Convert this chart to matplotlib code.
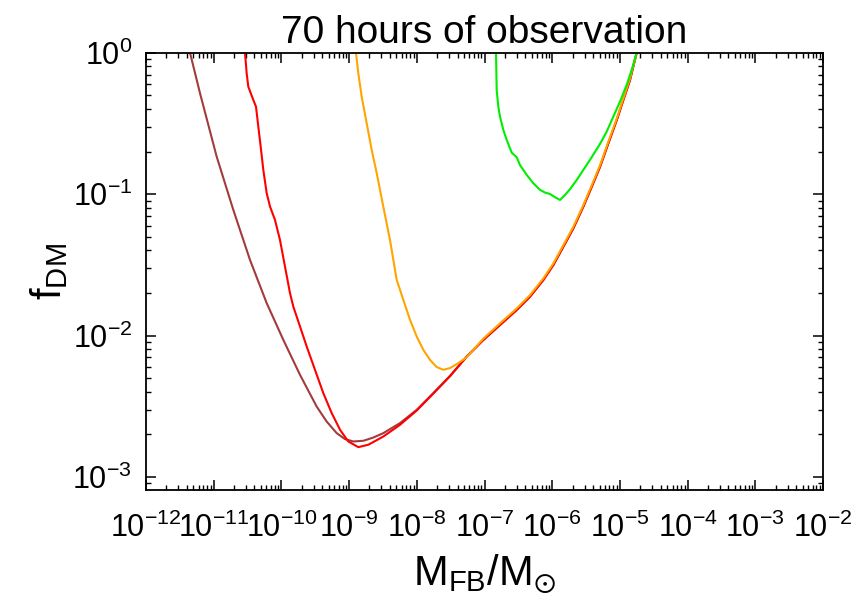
import numpy as np
import matplotlib
matplotlib.use("Agg")
from matplotlib import pyplot as plt
from matplotlib import ticker

plt.rcParams["font.family"] = ["Liberation Sans", "DejaVu Sans"]
plt.rcParams["mathtext.fontset"] = "custom"
plt.rcParams["mathtext.rm"] = "Liberation Sans"
plt.rcParams["mathtext.it"] = "Liberation Sans"
plt.rcParams["mathtext.bf"] = "Liberation Sans:bold"
plt.rcParams["mathtext.default"] = "regular"

# curves, as log10(M/Msun) and log10(f_DM)
brown_logm = [-11.350, -11.202, -11.079, -10.956, -10.710, -10.464, -10.217, -9.972,
              -9.725, -9.479, -9.331, -9.183, -9.061, -8.938, -8.790, -8.643, -8.495,
              -8.248, -8.001, -7.756, -7.510, -7.263, -7.018, -6.771, -6.524, -6.328,
              -6.131, -5.983, -5.836, -5.688, -5.541, -5.416, -5.294, -5.171, -5.047,
              -4.950, -4.851, -4.752]
brown_logf = [0.0, -0.287, -0.511, -0.735, -1.112, -1.465, -1.771, -2.030,
              -2.278, -2.502, -2.608, -2.690, -2.732, -2.749, -2.744, -2.721, -2.690,
              -2.619, -2.525, -2.407, -2.285, -2.148, -2.030, -1.924, -1.818, -1.724,
              -1.606, -1.500, -1.371, -1.241, -1.088, -0.947, -0.806, -0.640, -0.476,
              -0.334, -0.193, 0.0]

red_logm = [-10.538, -10.513, -10.489, -10.415, -10.375, -10.341, -10.306, -10.267,
            -10.217, -10.168, -10.095, -10.021, -9.947, -9.873, -9.824, -9.725, -9.626,
            -9.504, -9.381, -9.257, -9.134, -9.012, -8.864, -8.716, -8.495, -8.248,
            -8.001, -7.756, -7.510, -7.263, -7.018, -6.771, -6.524, -6.328, -6.131,
            -5.983, -5.836, -5.688, -5.541, -5.416, -5.294, -5.171, -5.047, -4.950,
            -4.851, -4.752]
red_logf = [0.0, -0.146, -0.240, -0.334, -0.382, -0.523, -0.664, -0.829,
            -0.994, -1.088, -1.182, -1.324, -1.512, -1.700, -1.795, -1.936, -2.078,
            -2.242, -2.407, -2.548, -2.666, -2.749, -2.789, -2.772, -2.714, -2.631,
            -2.530, -2.410, -2.288, -2.150, -2.032, -1.926, -1.820, -1.726, -1.608,
            -1.502, -1.373, -1.243, -1.090, -0.949, -0.808, -0.642, -0.478, -0.336,
            -0.195, 0.0]

orange_logm = [-8.898, -8.864, -8.814, -8.740, -8.666, -8.592, -8.495, -8.396,
               -8.297, -8.199, -8.100, -8.001, -7.904, -7.805, -7.706, -7.608, -7.510,
               -7.387, -7.263, -7.018, -6.771, -6.524, -6.328, -6.131, -5.983, -5.836,
               -5.688, -5.541, -5.416, -5.294, -5.171, -5.047, -4.950, -4.851, -4.752]
orange_logf = [0.0, -0.146, -0.311, -0.499, -0.688, -0.852, -1.088, -1.324,
               -1.606, -1.748, -1.889, -2.007, -2.101, -2.172, -2.223, -2.242, -2.230,
               -2.195, -2.153, -2.022, -1.914, -1.808, -1.714, -1.596, -1.490, -1.361,
               -1.231, -1.078, -0.937, -0.796, -0.630, -0.466, -0.324, -0.183, 0.0]

green_logm = [-6.830, -6.820, -6.796, -6.771, -6.722, -6.672, -6.598, -6.524,
              -6.476, -6.377, -6.279, -6.180, -6.106, -6.032, -5.959, -5.885, -5.811,
              -5.737, -5.638, -5.541, -5.442, -5.294, -5.195, -5.097, -4.999, -4.900,
              -4.826, -4.752]
green_logf = [0.0, -0.264, -0.382, -0.452, -0.546, -0.617, -0.707, -0.739,
              -0.794, -0.864, -0.923, -0.970, -0.989, -0.999, -1.022, -1.041, -1.006,
              -0.965, -0.900, -0.829, -0.758, -0.645, -0.558, -0.452, -0.346, -0.228,
              -0.122, 0.0]

curves = [
    (brown_logm, brown_logf, "#a23c3c"),
    (red_logm, red_logf, "#ff0000"),
    (orange_logm, orange_logf, "#ffa500"),
    (green_logm, green_logf, "#00ee00"),
]

fig = plt.figure(figsize=(8.66, 6.01), dpi=100)
ax = fig.add_axes([146 / 866, 1 - 490 / 601, (823 - 146) / 866, (490 - 52.7) / 601])

for logm, logf, color in curves:
    ax.plot(np.power(10.0, logm), np.power(10.0, logf), color=color, lw=1.5,
            solid_joinstyle="round")

ax.set_xscale("log")
ax.set_yscale("log")
ax.set_xlim(1e-12, 1e-2)
ax.set_ylim(10 ** -3.092, 1.0)

ax.xaxis.set_major_locator(ticker.LogLocator(base=10, numticks=20))
ax.xaxis.set_minor_locator(ticker.LogLocator(base=10, subs=np.arange(2, 10), numticks=20))
ax.xaxis.set_minor_formatter(ticker.NullFormatter())
ax.yaxis.set_minor_formatter(ticker.NullFormatter())

ax.tick_params(which="both", direction="in", top=True, right=True, labelsize=22)
ax.tick_params(which="major", length=7, width=1.1)
ax.tick_params(which="minor", length=3.5, width=1.0)
ax.tick_params(axis="x", which="major", pad=16)
ax.tick_params(axis="y", which="major", pad=10)
for sp in ax.spines.values():
    sp.set_linewidth(1.3)

ax.set_title("70 hours of observation", fontsize=28, pad=7)
ax.set_xlabel(r"$M_{FB}/M_{\odot}$", fontsize=30, labelpad=6)
ax.set_ylabel(r"$f_{DM}$", fontsize=30, labelpad=2)

fig.savefig("out.png", dpi=100)
